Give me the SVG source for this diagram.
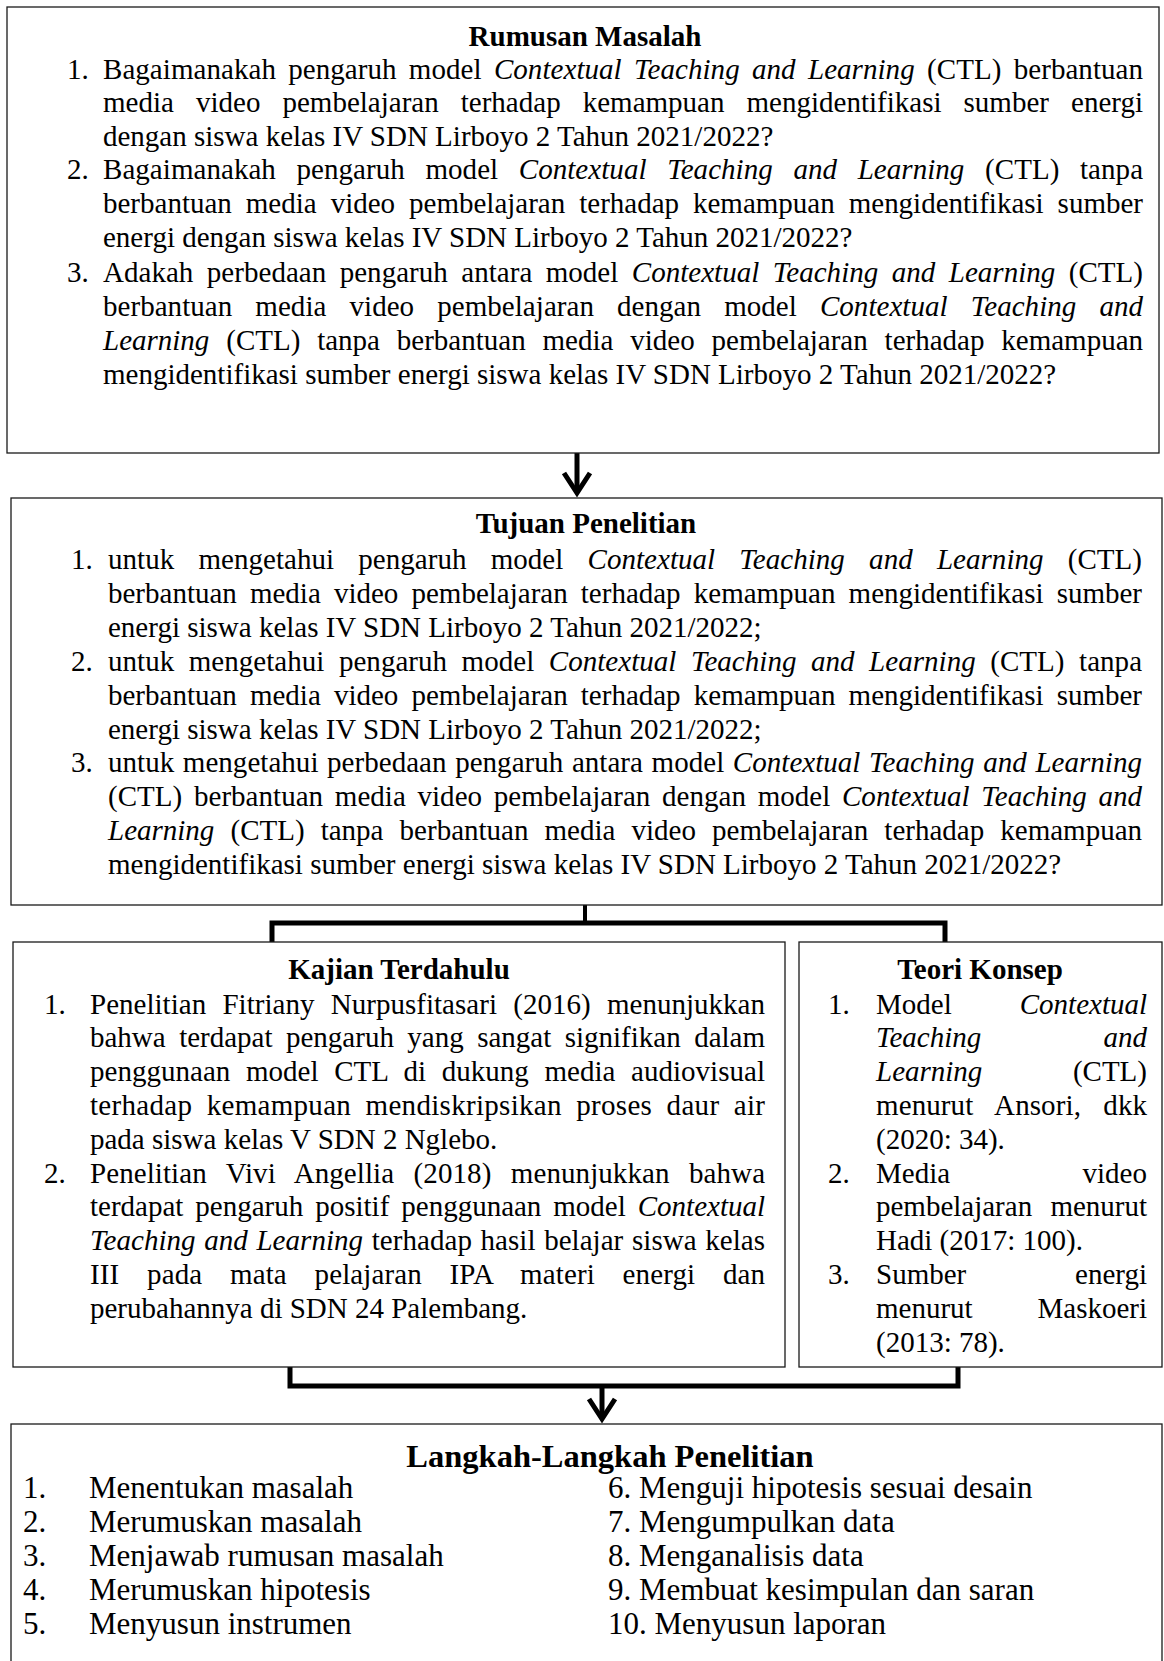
<svg xmlns="http://www.w3.org/2000/svg" width="1164" height="1661" viewBox="0 0 1164 1661">
<style>
.t{font-family:"Liberation Serif","Times New Roman",serif;font-size:29px;fill:#000}
.L{font-size:31px}
.LT{font-size:32.5px}
.b{font-weight:bold}
.i{font-style:italic}
.m{text-anchor:middle}
.e{text-anchor:end}
.box{fill:#fff;stroke:#1a1a1a;stroke-width:1.3}
.conn{fill:none;stroke:#000;stroke-width:5;stroke-linejoin:miter}
</style>
<rect width="1164" height="1661" fill="#fff"/>

<g id="connectors">
  <path class="conn" d="M577,453 V492"/>
  <polyline class="conn" points="564,473 577,493 590,473"/>
  <path class="conn" d="M585,905 V923" style="stroke-width:4"/>
  <path class="conn" d="M272,942 V923 H945 V942"/>
  <path class="conn" d="M290,1367 V1386 H958 V1367"/>
  <path class="conn" d="M602,1386 V1418"/>
  <polyline class="conn" points="589,1399 602,1419 615,1399"/>
</g>

<g id="rumusan">
  <rect class="box" x="7" y="7" width="1152" height="446"/>
  <text class="t b m" x="585" y="46">Rumusan Masalah</text>
  <text class="t" x="67" y="78.5">1.</text>
  <text class="t" x="103" y="78.5" textLength="1040" lengthAdjust="spacing" style="word-spacing:5px">Bagaimanakah pengaruh model <tspan class="i">Contextual Teaching and Learning</tspan> (CTL) berbantuan</text>
  <text class="t" x="103" y="112" textLength="1040" lengthAdjust="spacing" style="word-spacing:14.8px">media video pembelajaran terhadap kemampuan mengidentifikasi sumber energi</text>
  <text class="t" x="103" y="145.5">dengan siswa kelas IV SDN Lirboyo 2 Tahun 2021/2022?</text>
  <text class="t" x="67" y="179">2.</text>
  <text class="t" x="103" y="179" textLength="1040" lengthAdjust="spacing" style="word-spacing:13.3px">Bagaimanakah pengaruh model <tspan class="i">Contextual Teaching and Learning</tspan> (CTL) tanpa</text>
  <text class="t" x="103" y="213" textLength="1040" lengthAdjust="spacing" style="word-spacing:6.7px">berbantuan media video pembelajaran terhadap kemampuan mengidentifikasi sumber</text>
  <text class="t" x="103" y="247">energi dengan siswa kelas IV SDN Lirboyo 2 Tahun 2021/2022?</text>
  <text class="t" x="67" y="281.5">3.</text>
  <text class="t" x="103" y="281.5" textLength="1040" lengthAdjust="spacing" style="word-spacing:6.1px">Adakah perbedaan pengaruh antara model <tspan class="i">Contextual Teaching and Learning</tspan> (CTL)</text>
  <text class="t" x="103" y="315.5" textLength="1040" lengthAdjust="spacing" style="word-spacing:15.8px">berbantuan media video pembelajaran dengan model <tspan class="i">Contextual Teaching and</tspan></text>
  <text class="t" x="103" y="349.5" textLength="1040" lengthAdjust="spacing" style="word-spacing:9.6px"><tspan class="i">Learning</tspan> (CTL) tanpa berbantuan media video pembelajaran terhadap kemampuan</text>
  <text class="t" x="103" y="383.5">mengidentifikasi sumber energi siswa kelas IV SDN Lirboyo 2 Tahun 2021/2022?</text>
</g>

<g id="tujuan">
  <rect class="box" x="11" y="498" width="1151" height="407"/>
  <text class="t b m" x="586" y="533">Tujuan Penelitian</text>
  <text class="t" x="71" y="569">1.</text>
  <text class="t" x="108" y="569" textLength="1034" lengthAdjust="spacing" style="word-spacing:16.9px">untuk mengetahui pengaruh model <tspan class="i">Contextual Teaching and Learning</tspan> (CTL)</text>
  <text class="t" x="108" y="602.9" textLength="1034" lengthAdjust="spacing" style="word-spacing:5.9px">berbantuan media video pembelajaran terhadap kemampuan mengidentifikasi sumber</text>
  <text class="t" x="108" y="636.8">energi siswa kelas IV SDN Lirboyo 2 Tahun 2021/2022;</text>
  <text class="t" x="71" y="670.7">2.</text>
  <text class="t" x="108" y="670.7" textLength="1034" lengthAdjust="spacing" style="word-spacing:7.2px">untuk mengetahui pengaruh model <tspan class="i">Contextual Teaching and Learning</tspan> (CTL) tanpa</text>
  <text class="t" x="108" y="704.6" textLength="1034" lengthAdjust="spacing" style="word-spacing:5.9px">berbantuan media video pembelajaran terhadap kemampuan mengidentifikasi sumber</text>
  <text class="t" x="108" y="738.5">energi siswa kelas IV SDN Lirboyo 2 Tahun 2021/2022;</text>
  <text class="t" x="71" y="772.4">3.</text>
  <text class="t" x="108" y="772.4" textLength="1034" lengthAdjust="spacing" style="word-spacing:1.3px">untuk mengetahui perbedaan pengaruh antara model <tspan class="i">Contextual Teaching and Learning</tspan></text>
  <text class="t" x="108" y="806.3" textLength="1034" lengthAdjust="spacing" style="word-spacing:4.4px">(CTL) berbantuan media video pembelajaran dengan model <tspan class="i">Contextual Teaching and</tspan></text>
  <text class="t" x="108" y="840.2" textLength="1034" lengthAdjust="spacing" style="word-spacing:8.9px"><tspan class="i">Learning</tspan> (CTL) tanpa berbantuan media video pembelajaran terhadap kemampuan</text>
  <text class="t" x="108" y="874.1">mengidentifikasi sumber energi siswa kelas IV SDN Lirboyo 2 Tahun 2021/2022?</text>
</g>

<g id="kajian">
  <rect class="box" x="13" y="942" width="772" height="425"/>
  <text class="t b m" x="399" y="979">Kajian Terdahulu</text>
  <text class="t" x="44" y="1013.5">1.</text>
  <text class="t" x="90" y="1013.5" textLength="675" lengthAdjust="spacing" style="word-spacing:9px">Penelitian Fitriany Nurpusfitasari (2016) menunjukkan</text>
  <text class="t" x="90" y="1047.3" textLength="675" lengthAdjust="spacing" style="word-spacing:6.2px">bahwa terdapat pengaruh yang sangat signifikan dalam</text>
  <text class="t" x="90" y="1081.1" textLength="675" lengthAdjust="spacing" style="word-spacing:8.3px">penggunaan model CTL di dukung media audiovisual</text>
  <text class="t" x="90" y="1114.9" textLength="675" lengthAdjust="spacing" style="word-spacing:6.9px">terhadap kemampuan mendiskripsikan proses daur air</text>
  <text class="t" x="90" y="1148.7">pada siswa kelas V SDN 2 Nglebo.</text>
  <text class="t" x="44" y="1182.5">2.</text>
  <text class="t" x="90" y="1182.5" textLength="675" lengthAdjust="spacing" style="word-spacing:12.1px">Penelitian Vivi Angellia (2018) menunjukkan bahwa</text>
  <text class="t" x="90" y="1216.3" textLength="675" lengthAdjust="spacing" style="word-spacing:4.7px">terdapat pengaruh positif penggunaan model <tspan class="i">Contextual</tspan></text>
  <text class="t" x="90" y="1250.1" textLength="675" lengthAdjust="spacing" style="word-spacing:1.3px"><tspan class="i">Teaching and Learning</tspan> terhadap hasil belajar siswa kelas</text>
  <text class="t" x="90" y="1283.9" textLength="675" lengthAdjust="spacing" style="word-spacing:20.4px">III pada mata pelajaran IPA materi energi dan</text>
  <text class="t" x="90" y="1317.7">perubahannya di SDN 24 Palembang.</text>
</g>

<g id="teori">
  <rect class="box" x="799" y="942" width="363" height="425"/>
  <text class="t b m" x="980" y="979">Teori Konsep</text>
  <text class="t" x="828" y="1013.5">1.</text>
  <text class="t" x="876" y="1013.5">Model</text>
  <text class="t i e" x="1147" y="1013.5">Contextual</text>
  <text class="t i" x="876" y="1047.3">Teaching</text>
  <text class="t i e" x="1147" y="1047.3">and</text>
  <text class="t i" x="876" y="1081.1">Learning</text>
  <text class="t e" x="1147" y="1081.1">(CTL)</text>
  <text class="t" x="876" y="1114.9" textLength="271" lengthAdjust="spacing" style="word-spacing:15px">menurut Ansori, dkk</text>
  <text class="t" x="876" y="1148.7">(2020: 34).</text>
  <text class="t" x="828" y="1182.5">2.</text>
  <text class="t" x="876" y="1182.5">Media</text>
  <text class="t e" x="1147" y="1182.5">video</text>
  <text class="t" x="876" y="1216.3" textLength="271" lengthAdjust="spacing" style="word-spacing:11px">pembelajaran menurut</text>
  <text class="t" x="876" y="1250.1">Hadi (2017: 100).</text>
  <text class="t" x="828" y="1283.9">3.</text>
  <text class="t" x="876" y="1283.9">Sumber</text>
  <text class="t e" x="1147" y="1283.9">energi</text>
  <text class="t" x="876" y="1317.7">menurut</text>
  <text class="t e" x="1147" y="1317.7">Maskoeri</text>
  <text class="t" x="876" y="1351.5">(2013: 78).</text>
</g>

<g id="langkah">
  <rect class="box" x="11" y="1424" width="1151" height="260"/>
  <text class="t LT b m" x="610" y="1467">Langkah-Langkah Penelitian</text>
  <text class="t L" x="23" y="1498">1.</text>
  <text class="t L" x="89" y="1498">Menentukan masalah</text>
  <text class="t L" x="23" y="1532">2.</text>
  <text class="t L" x="89" y="1532">Merumuskan masalah</text>
  <text class="t L" x="23" y="1566">3.</text>
  <text class="t L" x="89" y="1566">Menjawab rumusan masalah</text>
  <text class="t L" x="23" y="1600">4.</text>
  <text class="t L" x="89" y="1600">Merumuskan hipotesis</text>
  <text class="t L" x="23" y="1634">5.</text>
  <text class="t L" x="89" y="1634">Menyusun instrumen</text>
  <text class="t L" x="608" y="1498">6. Menguji hipotesis sesuai desain</text>
  <text class="t L" x="608" y="1532">7. Mengumpulkan data</text>
  <text class="t L" x="608" y="1566">8. Menganalisis data</text>
  <text class="t L" x="608" y="1600">9. Membuat kesimpulan dan saran</text>
  <text class="t L" x="608" y="1634">10. Menyusun laporan</text>
</g>
</svg>
